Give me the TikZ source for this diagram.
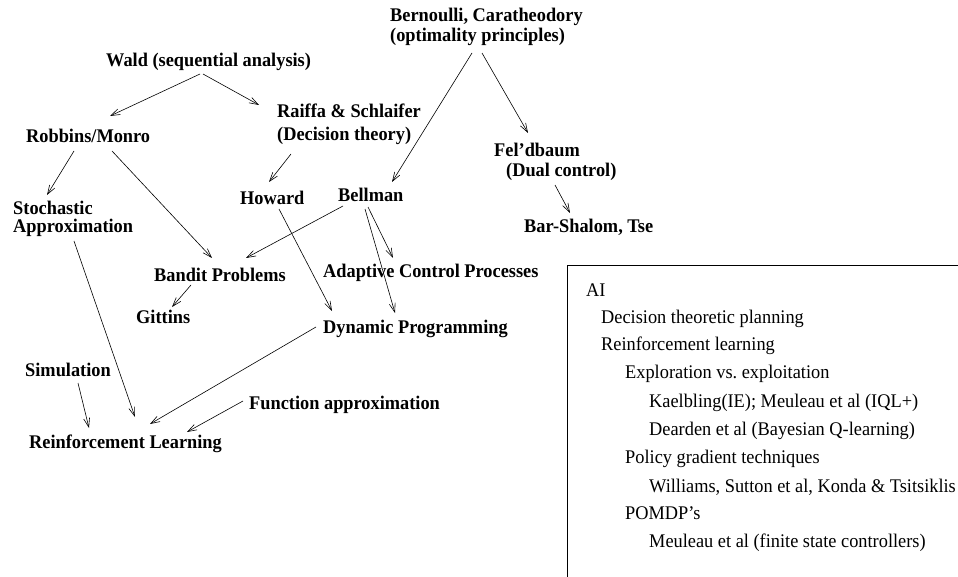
\documentclass[tikz,border=0pt]{standalone}
\usepackage{fontspec}
\setmainfont{Liberation Serif}
\newfontfamily\narrowserif[FakeStretch=0.95]{Liberation Serif}
\usetikzlibrary{arrows.meta}
\frenchspacing

\tikzset{
  lbl/.style={anchor=base west, inner sep=0pt, font=\narrowserif\bfseries\fontsize{19.3}{20}\selectfont},
  itm/.style={anchor=base west, inner sep=0pt, font=\narrowserif\fontsize{19.3}{20}\selectfont},
  arr/.style={-{Straight Barb[length=9pt,width=6pt]}, line width=0.6pt},
  frame/.style={line width=0.8pt}
}
\newcommand{\twoline}[2]{\begin{tabular}[t]{@{}l@{}}#1\\#2\end{tabular}}

\begin{document}
\begin{tikzpicture}[x=1pt,y=-1pt]
\useasboundingbox (0,0) rectangle (958,577);

% history graph
\node[lbl] (bern) at (390,22) {\twoline{Bernoulli, Caratheodory}{(optimality principles)}};
\node[lbl] (wald) at (106,67) {Wald (sequential analysis)};
\node[lbl] (raiffa) at (277,118) {\begin{tabular}[t]{@{}l@{}}Raiffa \& Schlaifer\\[3pt](Decision theory)\end{tabular}};
\node[lbl] (robbins) at (26,143) {Robbins/Monro};
\node[lbl] (feld) at (494,157) {\twoline{Fel’dbaum}{\hspace*{12pt}(Dual control)}};
\node[lbl] (stoch) at (13,215) {\begin{tabular}[t]{@{}l@{}}Stochastic\\[-2pt]Approximation\end{tabular}};
\node[lbl] (howard) at (240,205) {Howard};
\node[lbl] (bellman) at (338,202) {Bellman};
\node[lbl] (barshalom) at (524,233) {Bar-Shalom, Tse};
\node[lbl] (bandit) at (154,281) {Bandit Problems};
\node[lbl] (adaptive) at (323,278) {Adaptive Control Processes};
\node[lbl] (gittins) at (136,323) {Gittins};
\node[lbl] (dynamic) at (323,333) {Dynamic Programming};
\node[lbl] (simulation) at (25,376) {Simulation};
\node[lbl] (function) at (249,409) {Function approximation};
\node[lbl] (rl) at (29,448) {Reinforcement Learning};

\draw[arr] ([shift={(94,7)}]wald.base west) -- ([shift={(84,-27)}]robbins.base west);
\draw[arr] ([shift={(97,7)}]wald.base west) -- ([shift={(-18,-13)}]raiffa.base west);
\draw[arr] ([shift={(82,31)}]bern.base west) -- ([shift={(54,-20)}]bellman.base west);
\draw[arr] ([shift={(92,31)}]bern.base west) -- ([shift={(34,-24)}]feld.base west);
\draw[arr] ([shift={(61,28)}]feld.base west) -- ([shift={(46,-20)}]barshalom.base west);
\draw[arr] ([shift={(48,8)}]robbins.base west) -- ([shift={(34,-20)}]stoch.base west);
\draw[arr] ([shift={(86,8)}]robbins.base west) -- ([shift={(58,-23)}]bandit.base west);
\draw[arr] ([shift={(14,36)}]raiffa.base west) -- ([shift={(29,-23)}]howard.base west);
\draw[arr] ([shift={(5,4)}]bellman.base west) -- ([shift={(92,-23)}]bandit.base west);
\draw[arr] ([shift={(30,5)}]bellman.base west) -- ([shift={(70,-20)}]adaptive.base west);
\draw[arr] ([shift={(27,7)}]bellman.base west) -- ([shift={(72,-20)}]dynamic.base west);
\draw[arr] ([shift={(39,4)}]howard.base west) -- ([shift={(9,-22)}]dynamic.base west);
\draw[arr] ([shift={(61,26)}]stoch.base west) -- ([shift={(106,-31)}]rl.base west);
\draw[arr] ([shift={(37,4)}]bandit.base west) -- ([shift={(36,-16)}]gittins.base west);
\draw[arr] ([shift={(53,7)}]simulation.base west) -- ([shift={(60,-20)}]rl.base west);
\draw[arr] ([shift={(-7,-6)}]dynamic.base west) -- ([shift={(121,-24)}]rl.base west);
\draw[arr] ([shift={(-6,-8)}]function.base west) -- ([shift={(158,-16)}]rl.base west);

% AI topics panel
\begin{scope}
\clip (0,0) rectangle (958,577);
\draw[frame] (567,265) rectangle (1000,620);
\end{scope}
\node[itm] (ai) at (586,296) {AI};
\node[itm] (dtp) at (601,323) {Decision theoretic planning};
\node[itm] (rlearn) at (601,350) {Reinforcement learning};
\node[itm] (explore) at (625,378) {Exploration vs. exploitation};
\node[itm] (kaelbling) at (649,407) {Kaelbling(IE); Meuleau et al (IQL+)};
\node[itm] (dearden) at (649,435) {Dearden et al (Bayesian Q-learning)};
\node[itm] (policy) at (625,463) {Policy gradient techniques};
\node[itm] (williams) at (649,492) {Williams, Sutton et al, Konda \& Tsitsiklis};
\node[itm] (pomdp) at (625,519) {POMDP’s};
\node[itm] (fsc) at (649,547) {Meuleau et al (finite state controllers)};
\end{tikzpicture}
\end{document}
